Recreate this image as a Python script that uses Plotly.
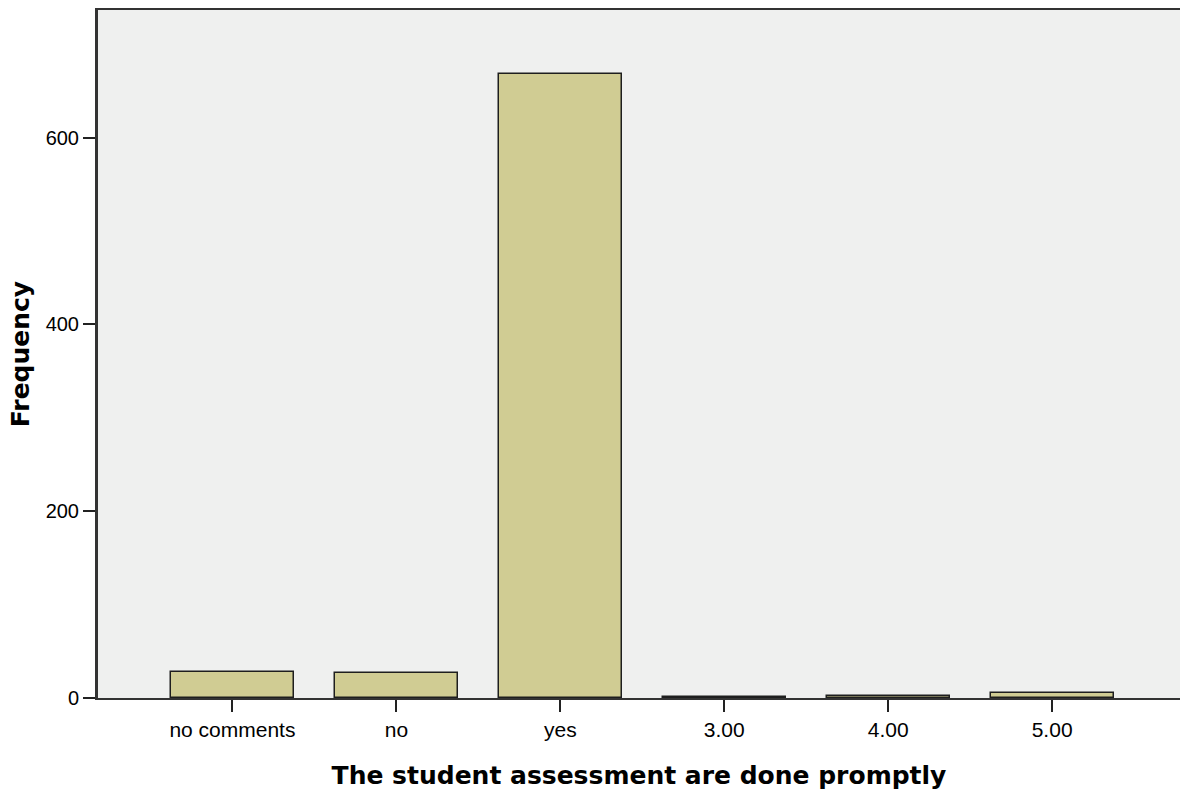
import plotly.graph_objects as go

# { data
categories = ['no comments', 'no', 'yes', '3.00', '4.00', '5.00']
frequency = [28, 27, 668, 1, 2, 5]
# }

bar_fill = '#d0cc93'
bg = '#eff0ef'

fig = go.Figure()

fig.add_trace(go.Bar(x=list(range(len(categories))),
                     y=frequency,
                     width=0.75,
                     marker=dict(color=bar_fill,
                                 line=dict(color='#1e1e1e', width=1.5)),
                     showlegend=False))

fig.update_layout(width=1180, height=790,
                  margin=dict(l=98, r=0, t=10, b=92),
                  paper_bgcolor='white',
                  plot_bgcolor=bg,
                  bargap=0,
                  font=dict(family='Liberation Sans, Arial', size=21, color='black'))

fig.update_xaxes(range=[-0.82, 5.78],
                 tickmode='array',
                 tickvals=list(range(len(categories))),
                 ticktext=categories,
                 ticks='outside', ticklen=12, tickwidth=2, tickcolor='#222',
                 showline=True, linecolor='#333', linewidth=2, mirror=True,
                 showgrid=False, zeroline=False,
                 tickfont=dict(size=21),
                 title=dict(text='<b>The student assessment are done promptly</b>',
                            font=dict(family='DejaVu Sans', size=25),
                            standoff=27))

fig.update_yaxes(range=[0, 736.6],
                 tickvals=[0, 200, 400, 600],
                 ticks='outside', ticklen=12, tickwidth=2, tickcolor='#222',
                 showline=True, linecolor='#333', linewidth=3,
                 showgrid=False, zeroline=False,
                 tickfont=dict(size=20),
                 title=dict(text='<b>Frequency</b>',
                            font=dict(family='DejaVu Sans', size=25),
                            standoff=9))

# drop the default 8px body margin so the figure fills the window exactly
fig.write_html("out.html",
               config={'displayModeBar': False},
               post_script="document.body.style.margin='0';")
